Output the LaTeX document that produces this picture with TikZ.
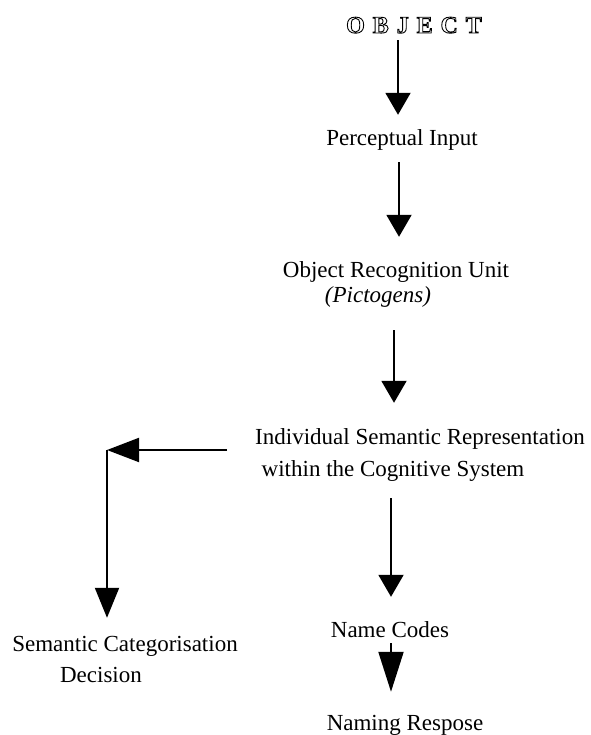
\documentclass[tikz,border=0pt]{standalone}
\usepackage{fontspec}
\setmainfont{Liberation Serif}
\usepackage{tikz}
\usetikzlibrary{arrows.meta}

% hollow capitals for the stimulus label
\newcommand{\hollowtext}[1]{\special{pdf:literal direct 1 Tr 0.9 w}#1\special{pdf:literal direct 0 Tr}}

\begin{document}
\begin{tikzpicture}[
  x=1pt,y=1pt,
  >={Triangle[length=22pt,width=25pt]},
  font=\fontsize{23}{27}\selectfont,
  label/.style={anchor=base, inner sep=0pt, text height=16pt, text depth=5pt},
  arrow/.style={->, line width=2pt}
]
\useasboundingbox (0,0) rectangle (590,735);

% Main recognition path.
\node[label, font=\fontsize{24}{28}\selectfont\bfseries\addfontfeatures{LetterSpace=33}] (object) at (414,702) {\hollowtext{OBJECT}};
\node[label] (percept) at (402,589) {Perceptual Input};
\node[label] (oru) at (396,457) {Object Recognition Unit};
\node[label] (picto) at (378,432) {\textit{(Pictogens)}};
\node[label] (isr) at (420,290) {Individual Semantic Representation};
\node[label] (within) at (393,258) {within the Cognitive System};
\node[label] (codes) at (390,97) {Name Codes};
\node[label] (respose) at (405,5) {Naming Respose};

\draw[arrow, shorten <=2pt, shorten >=15pt] ([xshift=-16pt]object.south) -- ([xshift=-4pt]percept.north);
\draw[arrow, shorten <=11pt, shorten >=25pt] ([xshift=-3pt]percept.south) -- ([xshift=3pt]oru.north);
\draw[arrow, shorten <=22pt, shorten >=26pt] ([xshift=16pt]picto.south) -- ([xshift=-26pt]isr.north);
\draw[arrow, shorten <=16pt, shorten >=25pt] ([xshift=-2pt]within.south) -- ([xshift=1pt]codes.north);
\draw[arrow, >={Triangle[length=40pt,width=25pt]}, shorten >=22pt] ([xshift=1pt]codes.south) -- ([xshift=-14pt]respose.north);

% Categorisation branch.
\node[label] (categ) at (125,83) {Semantic Categorisation};
\node[label] (decision) at (101,52) {Decision};
\coordinate (split) at (107,285);
\draw[arrow, >={Triangle[length=32pt,width=24pt]}] ([xshift=-28pt,yshift=-5pt]isr.base west) -- (split);
\draw[arrow, >={Triangle[length=30pt,width=24pt]}, shorten >=18pt] (split) -- (split |- categ.north);
\end{tikzpicture}
\end{document}
